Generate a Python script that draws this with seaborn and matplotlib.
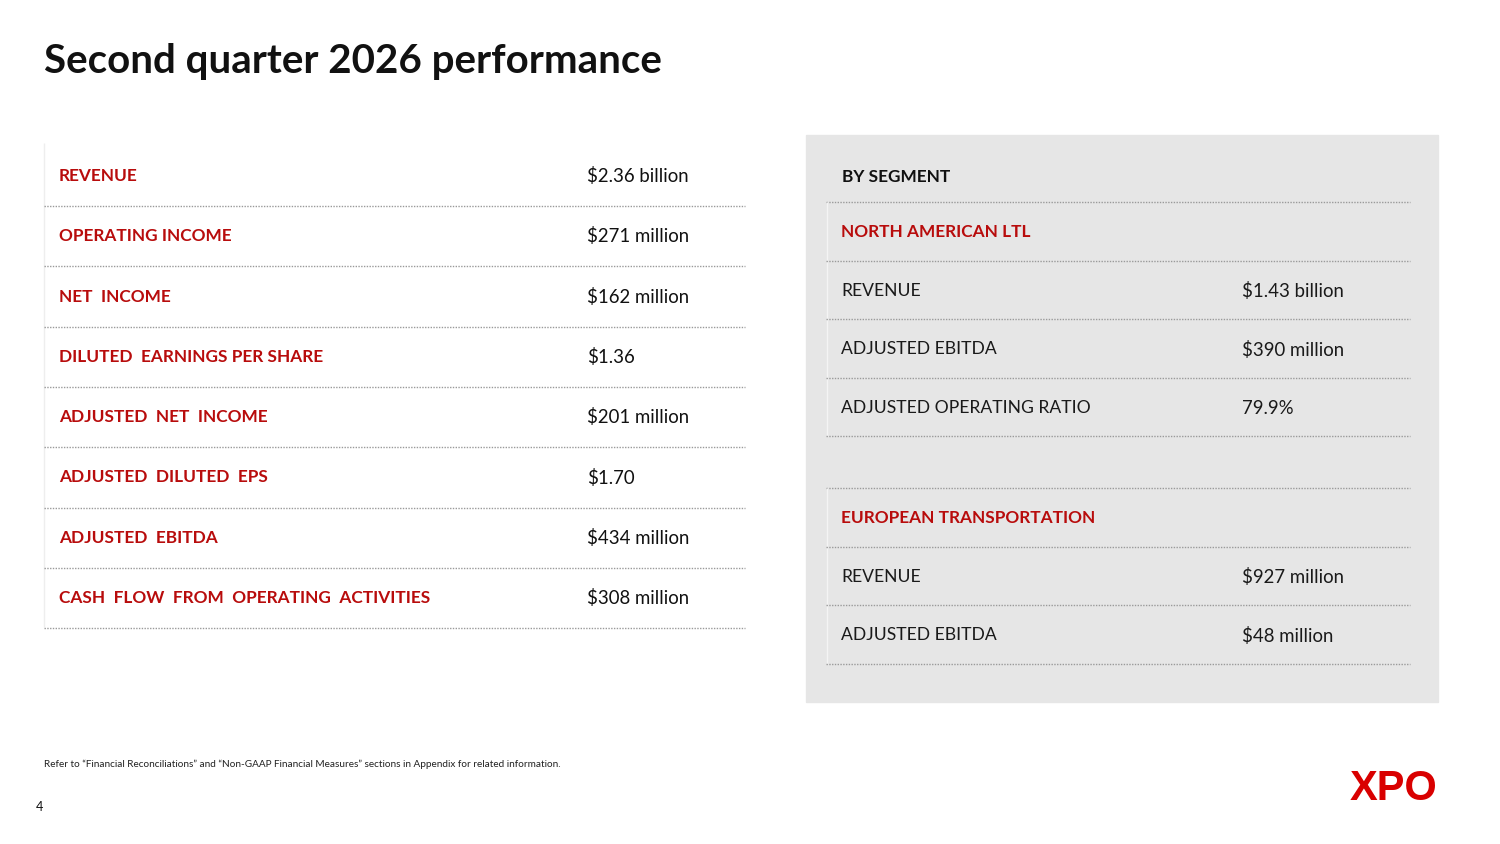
import matplotlib.pyplot as plt
import seaborn as sns

# left table: headline metrics
metrics = ["REVENUE", "OPERATING INCOME", "NET  INCOME", "DILUTED  EARNINGS PER SHARE",
           "ADJUSTED  NET  INCOME", "ADJUSTED  DILUTED  EPS", "ADJUSTED  EBITDA",
           "CASH  FLOW  FROM  OPERATING  ACTIVITIES"]
metric_values = ["$2.36 billion", "$271 million", "$162 million", "$1.36",
                 "$201 million", "$1.70", "$434 million", "$308 million"]

# right panel: by segment
seg_names = ["NORTH AMERICAN LTL", "EUROPEAN TRANSPORTATION"]
na_labels = ["REVENUE", "ADJUSTED EBITDA", "ADJUSTED OPERATING RATIO"]
na_values = ["$1.43 billion", "$390 million", "79.9%"]
eu_labels = ["REVENUE", "ADJUSTED EBITDA"]
eu_values = ["$927 million", "$48 million"]

title = "Second quarter 2026 performance"
footnote = ("Refer to \u201cFinancial Reconciliations\u201d and \u201cNon-GAAP Financial Measures\u201d "
            "sections in Appendix for related information.")
page_no = "4"

RED = "#B80C0C"
DOT = "#9a9a9a"

sns.set_theme(style="white")
plt.rcParams["font.family"] = ["Lato", "DejaVu Sans"]

fig = plt.figure(figsize=(15, 8.44), dpi=100)
ax = fig.add_axes([0, 0, 1, 1])
ax.set_xlim(0, 1500)
ax.set_ylim(844, 0)
ax.axis("off")

ax.text(44, 61, title, fontsize=29, fontweight="bold", color="#111111", va="center")

# left table
row_h = 60.3
y0 = 176
ax.vlines(44, 143, 627, color="#eeeeee", lw=1)
for i, (lab, val) in enumerate(zip(metrics, metric_values)):
    y = y0 + i * row_h
    ax.text(59, y, lab, fontsize=12.4, fontweight="bold", color=RED, va="center")
    ax.text(587, y, val, fontsize=13.4, color="#111111", va="center")
    ax.hlines(y + 30, 44, 745, color=DOT, lw=1, linestyles=(0, (1, 1)))

# right panel
ax.add_patch(plt.Rectangle((806, 135), 632, 567, color="#e6e6e6", zorder=0))
ax.text(842, 177, "BY SEGMENT", fontsize=12.4, fontweight="bold", color="#111111", va="center")
rh = 58.6


def segment(top, name, labels, values):
    ax.hlines(top, 826, 1410, color=DOT, lw=1, linestyles=(0, (1, 1)))
    ax.vlines(827, top, top + rh * (len(labels) + 1), color="#f4f4f4", lw=1)
    ax.text(841, top + rh / 2 + 1, name, fontsize=12.4, fontweight="bold", color=RED, va="center")
    ax.hlines(top + rh, 826, 1410, color=DOT, lw=1, linestyles=(0, (1, 1)))
    for j, (lab, val) in enumerate(zip(labels, values)):
        y = top + rh * (j + 1.5) + 1
        ax.text(841, y, lab, fontsize=12.6, color="#1a1a1a", va="center")
        ax.text(1242, y, val, fontsize=13.4, color="#1a1a1a", va="center")
        ax.hlines(top + rh * (j + 2), 826, 1410, color=DOT, lw=1, linestyles=(0, (1, 1)))


segment(202, seg_names[0], na_labels, na_values)
segment(488, seg_names[1], eu_labels, eu_values)

ax.text(44, 764, footnote, fontsize=7.2, color="#222222", va="center")
ax.text(36, 807, page_no, fontsize=9, color="#111111", va="center")
ax.text(1437, 789, "XPO", fontsize=30, fontweight="heavy", color="#D90000",
        va="center", ha="right", family=["Liberation Sans", "DejaVu Sans"])

fig.savefig("out.png", dpi=100)
